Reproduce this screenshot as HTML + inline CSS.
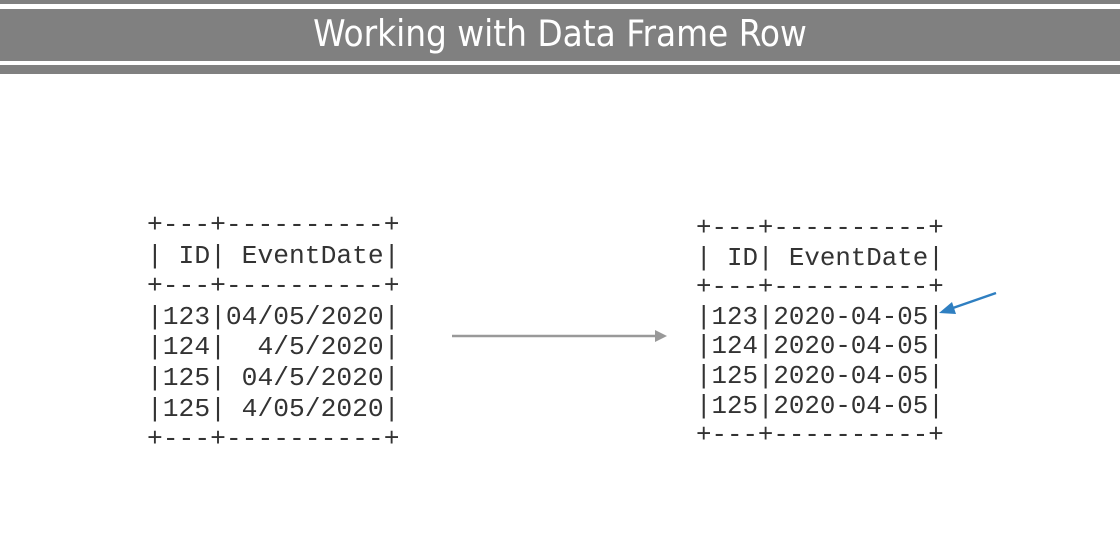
<!DOCTYPE html>
<html><head><style>
body{margin:0;width:1120px;height:548px;background:#fff;position:relative;overflow:hidden}
.b{position:absolute;left:0;width:1120px;background:#808080}
pre{position:absolute;margin:0;font-family:"Liberation Mono",monospace;color:#333}
</style></head><body>
<div class="b" style="top:0;height:4px"></div>
<div class="b" style="top:9px;height:52px"></div>
<div class="b" style="top:65px;height:9px"></div>
<div style="position:absolute;top:9px;left:0;width:1120px;height:52px;line-height:50px;text-align:center;color:#fff;font-family:'DejaVu Sans Condensed','Liberation Sans',sans-serif;font-size:36.5px">Working with Data Frame Row</div>
<pre style="left:147px;top:210px;font-size:26.3px;line-height:30.6px">+---+----------+
| ID| EventDate|
+---+----------+
|123|04/05/2020|
|124|  4/5/2020|
|125| 04/5/2020|
|125| 4/05/2020|
+---+----------+</pre>
<pre style="left:696px;top:214px;font-size:25.8px;line-height:29.6px">+---+----------+
| ID| EventDate|
+---+----------+
|123|2020-04-05|
|124|2020-04-05|
|125|2020-04-05|
|125|2020-04-05|
+---+----------+</pre>
<svg width="1120" height="548" style="position:absolute;left:0;top:0">
<line x1="452" y1="336" x2="658" y2="336" stroke="#999" stroke-width="2.5"/>
<polygon points="667,336 655,330 655,342" fill="#999"/>
<line x1="996" y1="293" x2="950" y2="309" stroke="#2f7fc1" stroke-width="2.5"/>
<polygon points="939,313 952,302 956,314" fill="#2f7fc1"/>
</svg>
</body></html>
